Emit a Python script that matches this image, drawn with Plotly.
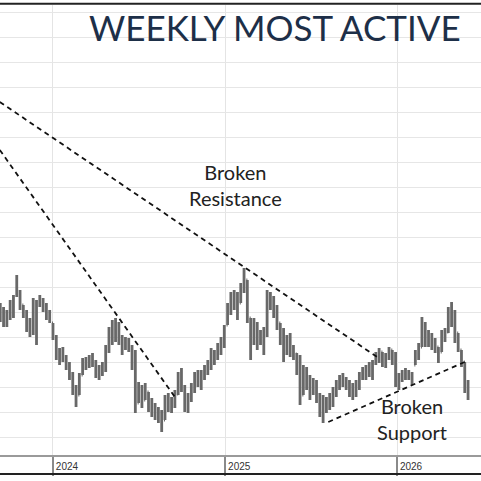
import pandas as pd
import plotly.graph_objects as go

# Weekly OHLC (arbitrary price units)
week_start = "2023-09-11"
highs = [159,155,152,162,167,187,172,157,152,144,164,162,167,164,159,152,139,127,114,115,
         107,100,90,77,89,104,105,107,109,102,97,100,117,135,142,144,140,127,125,124,
         117,112,80,77,79,70,64,59,55,52,67,69,65,72,90,94,77,69,79,90,
         92,92,97,102,114,112,119,125,137,159,170,172,170,179,194,182,144,144,140,132,
         135,172,170,166,157,139,134,127,129,117,109,107,97,95,87,84,82,69,67,65,
         69,75,82,87,89,85,82,79,82,90,95,97,100,102,110,114,110,109,115,112,
         110,89,92,94,92,90,112,119,145,140,132,129,124,115,132,134,155,160,152,129,
         112,100,82]
lows = [140,135,135,142,144,165,152,144,130,125,127,117,155,150,142,139,122,102,97,100,
        92,82,67,55,67,87,92,94,95,84,82,86,90,109,117,120,117,107,112,110,
        92,49,59,54,62,50,45,42,39,30,42,50,49,54,67,70,50,49,60,69,
        75,72,82,87,92,97,102,107,114,137,147,152,142,159,169,139,102,117,112,117,
        107,125,152,144,132,117,100,107,105,102,87,57,67,72,62,67,59,45,39,49,
        52,55,65,72,75,72,65,62,65,72,82,82,85,82,97,99,95,94,102,97,
        75,72,80,82,82,77,97,102,115,115,115,112,109,99,110,120,129,135,119,110,
        95,69,62]
opens = [150,148,140,146,155,167,170,157,150,135,140,150,160,160,155,147,139,125,105,110,
         103,96,86,72,67,87,98,97,102,99,88,92,95,112,130,138,125,122,115,120,
         114,100,59,70,62,70,55,50,48,45,42,60,55,60,68,80,75,55,65,75,
         85,80,88,95,98,105,108,115,120,137,155,160,165,159,175,182,144,120,125,130,
         120,130,165,160,150,139,125,110,120,112,108,95,67,85,78,70,80,65,50,55,
         60,65,72,78,85,80,75,70,75,80,87,92,88,95,100,105,110,100,105,112,
         100,78,85,88,85,88,97,105,115,130,120,125,118,115,110,125,130,150,145,129,
         112,100,75]
closes = [148,140,146,155,160,170,158,150,135,140,150,160,160,155,147,142,125,105,110,103,
          96,86,72,62,85,98,97,102,99,88,92,95,112,130,138,125,122,115,120,114,
          100,52,70,60,75,55,50,48,45,40,60,55,60,68,80,75,55,65,75,85,
          80,88,95,98,105,108,115,120,132,155,160,165,150,175,185,145,120,125,130,120,
          130,165,160,150,140,125,110,120,112,108,95,65,85,78,70,80,65,50,55,60,
          65,72,78,85,80,75,70,75,80,87,92,88,95,100,105,110,100,105,112,100,
          78,85,88,85,88,80,105,115,130,120,125,118,115,105,125,130,150,145,130,115,
          100,75,65]

dates = pd.date_range(week_start, periods=len(closes), freq="7D")

# Trend lines (date, price)
resistance_long = [("2023-09-10", 360), ("2025-11-20", 105)]
resistance_steep = [("2023-09-10", 312), ("2024-09-16", 65)]
support_line = [("2025-08-08", 40), ("2026-05-25", 100)]

year_ticks = ["2024-01-01", "2025-01-01", "2026-01-01"]
year_labels = ["2024", "2025", "2026"]

fig = go.Figure()
fig.add_trace(go.Ohlc(
    x=dates, open=opens, high=highs, low=lows, close=closes,
    increasing=dict(line=dict(color="#686868", width=2.8)),
    decreasing=dict(line=dict(color="#686868", width=2.8)),
    tickwidth=0.3, showlegend=False, hoverinfo="skip",
))

for ln in (resistance_long, resistance_steep, support_line):
    fig.add_shape(type="line", xref="x", yref="y",
                  x0=ln[0][0], y0=ln[0][1], x1=ln[1][0], y1=ln[1][1],
                  line=dict(color="#111111", width=1.8, dash="5px,4px"))

# frame lines
fig.add_shape(type="line", xref="paper", yref="paper", x0=0, x1=1, y0=1.003, y1=1.003,
              line=dict(color="#222222", width=2))
fig.add_shape(type="line", xref="paper", yref="paper", x0=0, x1=1, y0=-0.042, y1=-0.042,
              line=dict(color="#222222", width=2))

fig.add_annotation(text="WEEKLY MOST ACTIVE", xref="paper", yref="paper",
                   x=0.962, y=0.952, xanchor="right", yanchor="middle", showarrow=False,
                   font=dict(family="Lato", size=35, color="#1d2f48", weight=400))
fig.add_annotation(text="Broken<br>Resistance", xref="paper", yref="paper",
                   x=235/481, y=(455-185)/450, xanchor="center", yanchor="middle",
                   showarrow=False, font=dict(family="Lato", size=20, color="#222222"))
fig.add_annotation(text="Broken<br>Support", xref="paper", yref="paper",
                   x=412/481, y=(455-419)/450, xanchor="center", yanchor="middle",
                   showarrow=False, font=dict(family="Lato", size=20, color="#222222"))

fig.update_layout(
    width=481, height=481,
    margin=dict(l=0, r=0, t=5, b=26),
    paper_bgcolor="white", plot_bgcolor="white",
    xaxis=dict(
        type="date", range=["2023-09-10 10:00", "2026-06-28 12:00"],
        rangeslider=dict(visible=False),
        tickvals=year_ticks, ticktext=year_labels,
        showgrid=True, gridcolor="#e4e4e4", gridwidth=1,
        ticks="outside", ticklen=19, tickwidth=2, tickcolor="#8a8a8a",
        ticklabelstandoff=-18, ticklabelshift=14,
        tickfont=dict(family="Liberation Sans", size=10, color="#333333"),
        showline=True, linecolor="#9a9a9a", linewidth=1.5,
        zeroline=False, fixedrange=True,
    ),
    yaxis=dict(
        range=[7, 457], dtick=25, tick0=0,
        showgrid=True, gridcolor="#e6e6e6", gridwidth=1,
        showticklabels=False, ticks="", zeroline=False, showline=False,
    ),
)

fig.write_html("out.html")
